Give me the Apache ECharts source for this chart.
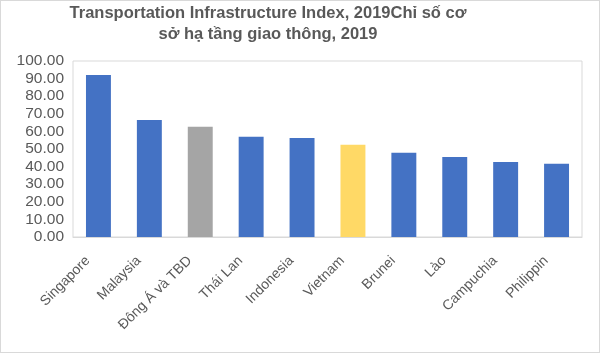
<!DOCTYPE html>
<html>
<head>
<meta charset="utf-8">
<script src="https://cdn.jsdelivr.net/npm/echarts@6/dist/echarts.min.js"></script>
<style>
  html, body { margin: 0; padding: 0; background: #ffffff; }
  #chart { width: 600px; height: 353px; box-sizing: border-box; border: 1px solid #d9d9d9; }
</style>
</head>
<body>
<div id="chart"></div>
<script>
// data
const countries = ['Singapore', 'Malaysia', 'Đông Á và TBD', 'Thái Lan', 'Indonesia', 'Vietnam', 'Brunei', 'Lào', 'Campuchia', 'Philippin'];
const indexValues = [92.0, 66.5, 62.7, 56.9, 56.3, 52.4, 47.8, 45.4, 42.6, 41.6];
const barColors = ['#4472c4', '#4472c4', '#a5a5a5', '#4472c4', '#4472c4', '#ffd966', '#4472c4', '#4472c4', '#4472c4', '#4472c4'];

let chart = echarts.init(document.getElementById('chart'));
let option = {
  animation: false,
  textStyle: { fontFamily: 'Liberation Sans, Arial, sans-serif' },
  title: {
    text: 'Transportation Infrastructure Index, 2019Chỉ số cơ\nsở hạ tầng giao thông, 2019',
    left: 262,
    top: -3,
    textAlign: 'center',
    textStyle: {
      fontSize: 16.5,
      fontWeight: 'bold',
      color: '#595959',
      lineHeight: 21,
      fontFamily: 'Liberation Sans, Arial, sans-serif'
    }
  },
  grid: {
    left: 72,
    right: 17,
    top: 60,
    bottom: 115,
    show: true,
    borderColor: '#d9d9d9',
    borderWidth: 1
  },
  xAxis: {
    type: 'category',
    data: countries,
    axisLine: { lineStyle: { color: '#d9d9d9' } },
    axisTick: { show: false },
    axisLabel: {
      interval: 0,
      rotate: 45,
      fontSize: 14,
      color: '#595959',
      margin: 11,
      padding: [0, 15, 0, 0]
    }
  },
  yAxis: {
    type: 'value',
    min: 0,
    max: 100,
    interval: 10,
    splitLine: { show: false },
    axisLine: { show: false },
    axisTick: { show: false },
    axisLabel: {
      fontSize: 15.5,
      color: '#595959',
      margin: 9,
      formatter: v => v.toFixed(2)
    }
  },
  series: [
    {
      type: 'bar',
      barWidth: '49%',
      data: indexValues.map((v, i) => ({ value: v, itemStyle: { color: barColors[i] } }))
    }
  ]
};
chart.setOption(option);
</script>
</body>
</html>
